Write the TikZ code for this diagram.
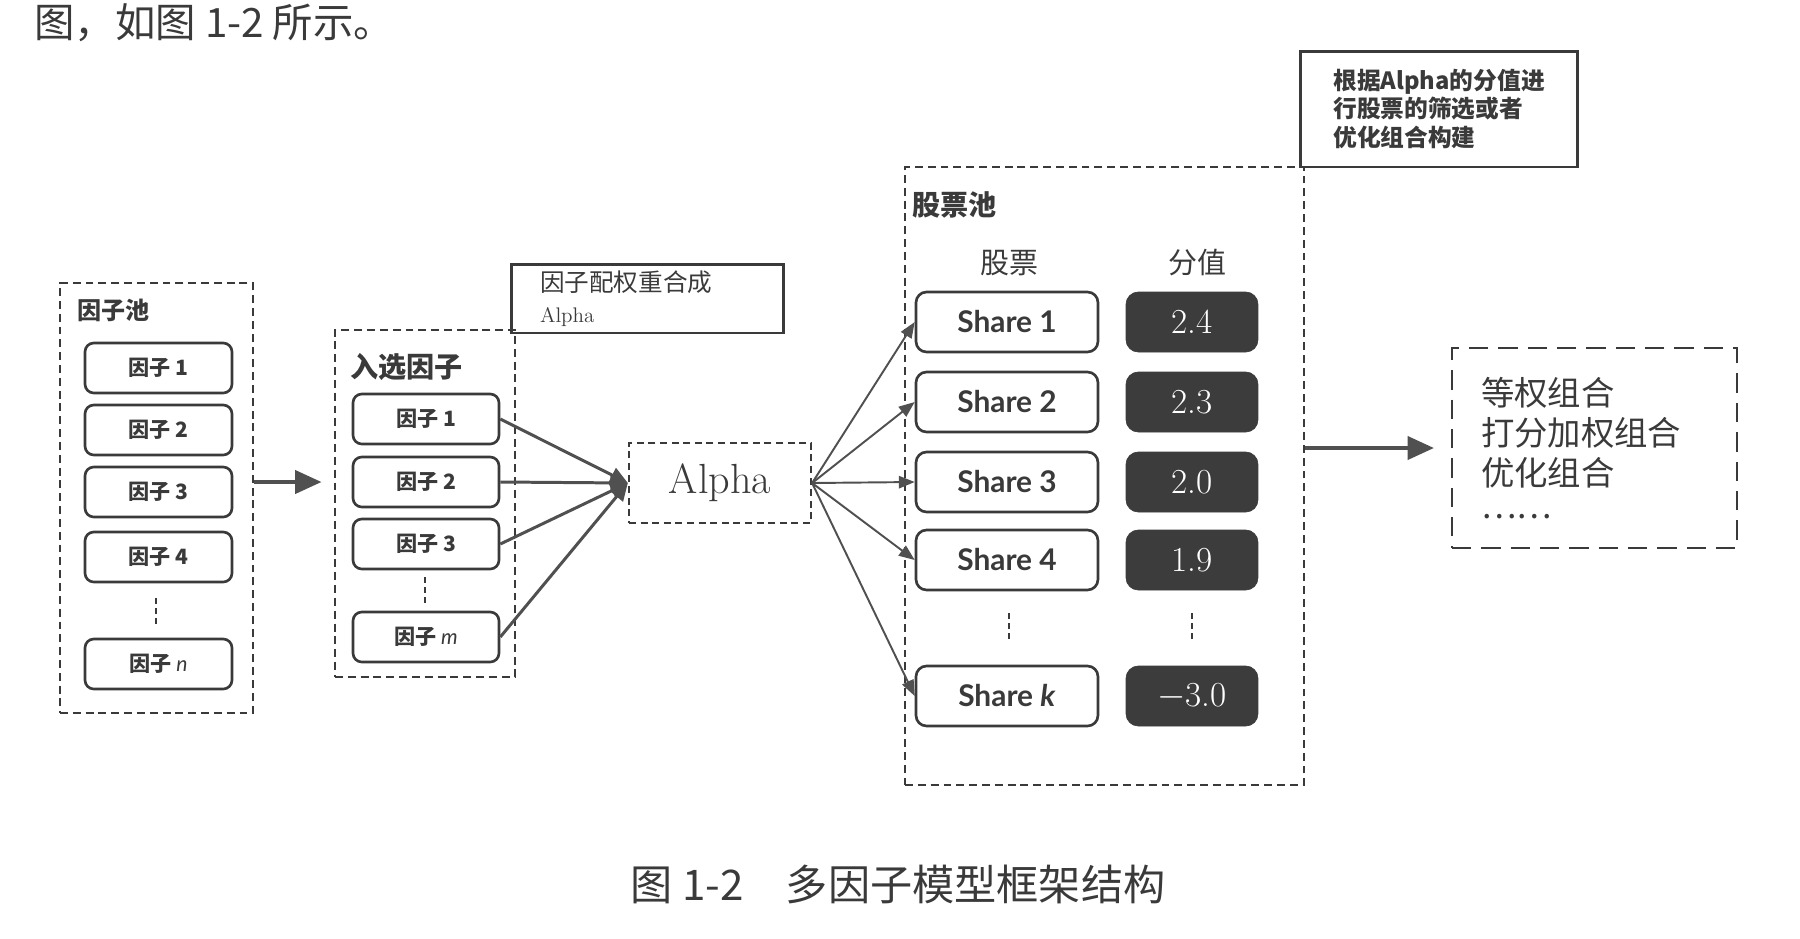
\documentclass[tikz,border=0pt]{standalone}
\usepackage{fontspec}
\newfontfamily\cjk{Noto Sans CJK SC}
\newfontfamily\sharefont{Lato}
\usetikzlibrary{arrows.meta}
\definecolor{ln}{HTML}{3A3A3A}
\definecolor{ar}{HTML}{505050}
\definecolor{dk}{HTML}{3C3C3C}

\begin{document}
\begin{tikzpicture}[x=0.02cm, y=-0.02cm, color=ln,
    pool/.style={draw=ln, line width=1.3pt, dash pattern=on 4.5pt off 2.8pt, inner sep=0pt},
    fbox/.style={draw=ln, line width=1.5pt, rounded corners=5pt, fill=white, minimum width=2.94cm, minimum height=1cm, font=\cjk\bfseries\fontsize{12}{12}\selectfont},
    sbox/.style={draw=ln, line width=1.5pt, rounded corners=6pt, fill=white, minimum width=3.64cm, minimum height=1.2cm, font=\sharefont\bfseries\fontsize{17}{17}\selectfont},
    vbox/.style={fill=dk, draw=dk, rounded corners=7pt, minimum width=2.64cm, minimum height=1.2cm, text=white, font=\fontsize{20}{20}\selectfont},
    note/.style={draw=ln, line width=1.7pt, inner ysep=0pt, align=left},
    arr/.style={draw=ar, line width=1.7pt, -{Triangle[length=10pt,width=9pt]}},
    thin/.style={draw=ar, line width=1.1pt, -{Triangle[length=9pt,width=7pt]}},
    big/.style={draw=ar, line width=2.4pt, -{Triangle[length=15pt,width=13pt]}},
    vdots/.style={draw=ln, line width=1.3pt, dash pattern=on 3.4pt off 2.3pt}]
\useasboundingbox (0,0) rectangle (1800,938);
\clip (0,0) rectangle (1800,938);
\node[anchor=west, inner sep=0pt, font=\cjk\fontsize{23}{23}\selectfont] (top) at (34,23) {图，如图 1-2 所示。};

\node[pool, minimum width=3.86cm, minimum height=8.6cm] (P) at (156.5,498) {};
\node[anchor=west, inner sep=0pt, font=\cjk\bfseries\fontsize{13.7}{14}\selectfont] (Pl) at (77,310) {因子池};
\node[fbox] (P1) at (158.5,368) {因子 1};
\node[fbox] (P2) at (158.5,430) {因子 2};
\node[fbox] (P3) at (158.5,492) {因子 3};
\node[fbox] (P4) at (158.5,557) {因子 4};
\node[fbox] (Pn) at (158.5,664) {因子 {\sharefont\mdseries\itshape n}};
\draw[vdots] (156,598) -- (156,627);

\node[pool, minimum width=3.6cm, minimum height=6.94cm] (Q) at (425,503.5) {};
\node[anchor=west, inner sep=0pt, font=\cjk\bfseries\fontsize{16}{16}\selectfont] (Ql) at (350,367) {入选因子};
\node[fbox, minimum width=2.92cm] (Q1) at (426,419) {因子 1};
\node[fbox, minimum width=2.92cm] (Q2) at (426,482) {因子 2};
\node[fbox, minimum width=2.92cm] (Q3) at (426,544) {因子 3};
\node[fbox, minimum width=2.92cm] (Qm) at (426,637) {因子 {\sharefont\mdseries\itshape m}};
\draw[vdots] (425,577) -- (425,606);

\node[note, minimum width=5.46cm, minimum height=1.38cm, inner xsep=0.58cm, text width=4.3cm, font=\cjk\fontsize{14}{17.6}\selectfont] (W) at (647.5,298.5) {因子配权重合成\\{\rmfamily\fontsize{12}{12}\selectfont Alpha}};
\node[pool, dash pattern=on 4pt off 2.6pt, minimum width=3.64cm, minimum height=1.6cm, font=\fontsize{24}{24}\selectfont] (A) at (720,483) {Alpha};

\node[pool, minimum width=7.98cm, minimum height=12.36cm] (S) at (1104.5,476) {};
\node[anchor=west, inner sep=0pt, font=\cjk\bfseries\fontsize{16}{16}\selectfont] (Sl) at (912,205) {股票池};
\node[font=\cjk\fontsize{16.5}{16.5}\selectfont] (Sh) at (1009,263) {股票};
\node[font=\cjk\fontsize{16.5}{16.5}\selectfont] (Vh) at (1197,263) {分值};
\node[sbox] (S1) at (1007,322) {Share 1};
\node[sbox] (S2) at (1007,402) {Share 2};
\node[sbox] (S3) at (1007,482) {Share 3};
\node[sbox] (S4) at (1007,560) {Share 4};
\node[sbox] (Sk) at (1007,696) {Share \textit{k}};
\node[vbox] (V1) at (1192,322) {2.4};
\node[vbox] (V2) at (1192,402) {2.3};
\node[vbox] (V3) at (1192,482) {2.0};
\node[vbox] (V4) at (1192,560) {1.9};
\node[vbox] (Vk) at (1192,696) {$-$3.0};
\draw[vdots] (1009,613) -- (1009,642);
\draw[vdots] (1192,613) -- (1192,642);

\node[note, minimum width=5.56cm, minimum height=2.32cm, font=\cjk\bfseries\fontsize{13.5}{16.2}\selectfont] (N) at (1439,109) {根据Alpha的分值进\\行股票的筛选或者\\优化组合构建};
\node[pool, line width=1.1pt, dash pattern=on 11pt off 5.7pt, minimum width=5.7cm, minimum height=4cm, inner xsep=0.58cm, text width=4.54cm, align=left, font=\cjk\fontsize{19}{22.8}\selectfont] (R) at (1594.5,448) {等权组合\\打分加权组合\\优化组合\\[-4pt]……};

\draw[big, shorten >=7pt] (P.east |- Q2) -- (Q.west |- Q2);
\foreach \i in {1,2,3,m} \draw[arr] (Q\i.east) -- (A.west);
\foreach \i in {1,2,3,4,k} \draw[thin] (A.east) -- (S\i.west);
\draw[big, shorten >=9.7pt] (S.east |- R) -- (R.west);

\node[font=\cjk\fontsize{24}{24}\selectfont] (cap) at (898,884) {图 1-2\hspace{1em}多因子模型框架结构};
\end{tikzpicture}
\end{document}
